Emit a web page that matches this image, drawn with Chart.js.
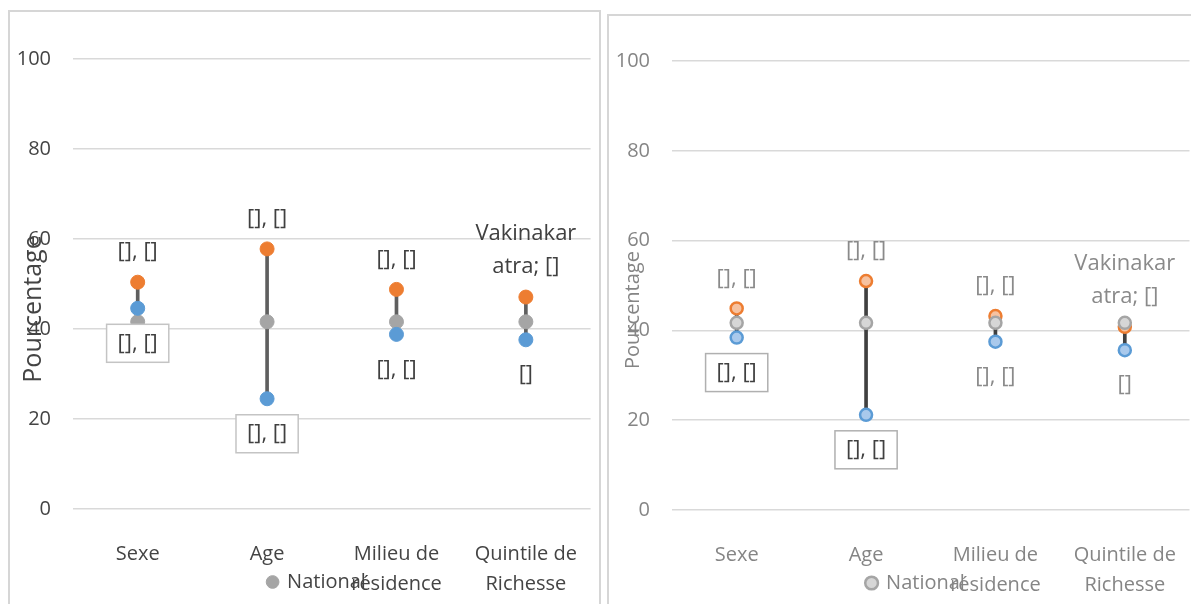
<!DOCTYPE html>
<html>
<head>
<meta charset="utf-8">
<script src="https://cdn.jsdelivr.net/npm/chart.js@4.4.0/dist/chart.umd.min.js"></script>
<style>
  body { margin: 0; width: 1191px; height: 604px; overflow: hidden; background: #fff; position: relative; }
  .panel { position: absolute; border: 2px solid #d6d6d6; border-bottom: none; overflow: hidden; }
  #p1 { left: 8px; top: 10px; width: 589px; height: 594px; }
  #p2 { left: 607px; top: 14px; width: 600px; height: 590px; }
  canvas { display: block; }
</style>
</head>
<body>
<div class="panel" id="p1"><canvas id="chartLeft" width="590" height="592"></canvas></div>
<div class="panel" id="p2"><canvas id="chartRight" width="590" height="588"></canvas></div>
<script>
const categories = [['Sexe'], ['Age'], ['Milieu de', 'résidence'], ['Quintile de', 'Richesse']];
const yTicks = [0, 20, 40, 60, 80, 100];

// left panel
const leftHigh = [50.4, 57.8, 48.8, 47.1];
const leftNational = [41.6, 41.6, 41.6, 41.6];
const leftLow = [44.6, 24.5, 38.8, 37.6];

// right panel
const rightHigh = [44.9, 51.0, 43.2, 40.8];
const rightNational = [41.7, 41.7, 41.7, 41.7];
const rightLow = [38.4, 21.2, 37.5, 35.6];

const topLabels = ['[], []', '[], []', '[], []', ['Vakinakar', 'atra; []']];
const bottomLabels = ['[], []', '[], []', '[], []', '[]'];
const boxedBottom = [true, true, false, false];

const FONT = "'Open Sans', sans-serif";

// data labels + y title
const labelPlugin = {
  id: 'etiquettes',
  afterLayout(chart) {
    // let tick labels use the whole canvas instead of being clipped to the scale box
    chart.scales.y.left = 0;
    chart.scales.x.bottom = chart.height;
  },
  afterDraw(chart, args, opts) {
    const ctx = chart.ctx;
    const x = chart.scales.x, y = chart.scales.y;
    ctx.save();
    ctx.font = '22px ' + FONT;
    ctx.textAlign = 'center';
    ctx.textBaseline = 'middle';
    opts.high.forEach((v, i) => {
      const px = x.getPixelForValue(i);
      const lines = [].concat(topLabels[i]);
      let py = y.getPixelForValue(v) - opts.above;
      ctx.fillStyle = opts.color;
      for (let k = lines.length - 1; k >= 0; k--) {
        ctx.fillText(lines[k], px, py);
        py -= 33;
      }
    });
    opts.low.forEach((v, i) => {
      const px = x.getPixelForValue(i);
      const py = y.getPixelForValue(v) + opts.below;
      if (boxedBottom[i]) {
        const w = ctx.measureText(bottomLabels[i]).width + 22;
        ctx.fillStyle = '#fff';
        ctx.fillRect(px - w / 2, py - 19, w, 38);
        ctx.strokeStyle = opts.boxBorder;
        ctx.lineWidth = 1.5;
        ctx.strokeRect(px - w / 2, py - 19, w, 38);
        ctx.fillStyle = opts.boxText;
      } else {
        ctx.fillStyle = opts.color;
      }
      ctx.fillText(bottomLabels[i], px, py);
    });
    // axis title
    ctx.translate(opts.titleX, opts.titleY);
    ctx.rotate(-Math.PI / 2);
    ctx.font = opts.titleSize + 'px ' + FONT;
    ctx.fillStyle = opts.titleColor;
    ctx.fillText('Pourcentage', 0, 0);
    ctx.restore();
  }
};

function makeChart(id, high, national, low, s) {
  const ranges = high.map((h, i) => [Math.min(h, national[i], low[i]), Math.max(h, national[i], low[i])]);
  return new Chart(document.getElementById(id), {
    type: 'bar',
    data: {
      labels: categories,
      datasets: [
        { type: 'bar', label: 'Ecart', data: ranges, backgroundColor: s.lineColor, barThickness: 3, order: 10 },
        { type: 'line', label: 'Groupe haut', data: high, showLine: false, pointRadius: s.radius,
          pointBackgroundColor: s.orangeFill, pointBorderColor: '#ED7D31', pointBorderWidth: s.border, order: 3 },
        { type: 'line', label: 'National', data: national, showLine: false, pointRadius: s.radius,
          pointBackgroundColor: s.grayFill, pointBorderColor: '#A5A5A5', pointBorderWidth: s.border, order: 2 },
        { type: 'line', label: 'Groupe bas', data: low, showLine: false, pointRadius: s.radius,
          pointBackgroundColor: s.blueFill, pointBorderColor: '#5B9BD5', pointBorderWidth: s.border, order: 1 }
      ]
    },
    options: {
      responsive: false,
      animation: false,
      devicePixelRatio: 1,
      layout: { padding: { top: s.top, left: 32, right: 8, bottom: s.bottom } },
      scales: {
        x: {
          offset: true,
          grid: { display: false },
          border: { display: false },
          ticks: { color: s.textColor, padding: 22, maxRotation: 0, autoSkip: false,
            font: { family: FONT, size: 20, lineHeight: 1.5 } },
          afterFit: sc => { sc.height = 53; }
        },
        y: {
          min: 0, max: 100,
          grid: { color: '#d9d9d9', lineWidth: 1.5, drawTicks: false },
          border: { display: false },
          ticks: { color: s.textColor, padding: 22, font: { family: FONT, size: 20 } },
          afterBuildTicks: sc => { sc.ticks = yTicks.map(v => ({ value: v })); },
          afterFit: sc => { sc.width = 31; }
        }
      },
      plugins: {
        tooltip: { enabled: false },
        legend: {
          position: 'bottom',
          labels: {
            filter: item => item.text === 'National',
            usePointStyle: true, pointStyle: 'circle',
            boxWidth: 9, boxHeight: 9, padding: 10,
            color: s.textColor, font: { family: FONT, size: 20 }
          }
        },
        etiquettes: {
          high: high, low: low, above: 30, below: 35,
          color: s.labelColor, boxText: s.boxText, boxBorder: s.boxBorder,
          titleX: 24, titleY: s.titleY, titleSize: s.titleSize, titleColor: s.textColor
        }
      }
    },
    plugins: [labelPlugin]
  });
}

makeChart('chartLeft', leftHigh, leftNational, leftLow, {
  top: 47, bottom: 2, radius: 7, border: 1,
  orangeFill: '#ED7D31', grayFill: '#A5A5A5', blueFill: '#5B9BD5',
  lineColor: '#5f5f5f', textColor: '#444444', labelColor: '#404040',
  boxText: '#404040', boxBorder: '#c4c4c4', titleY: 297, titleSize: 25
});

makeChart('chartRight', rightHigh, rightNational, rightLow, {
  top: 45, bottom: 1, radius: 6, border: 2.5,
  orangeFill: '#f6c2a0', grayFill: '#d6d6d6', blueFill: '#a9c9ec',
  lineColor: '#404040', textColor: '#858585', labelColor: '#8a8a8a',
  boxText: '#404040', boxBorder: '#b0b0b0', titleY: 294, titleSize: 20
});
</script>
</body>
</html>
